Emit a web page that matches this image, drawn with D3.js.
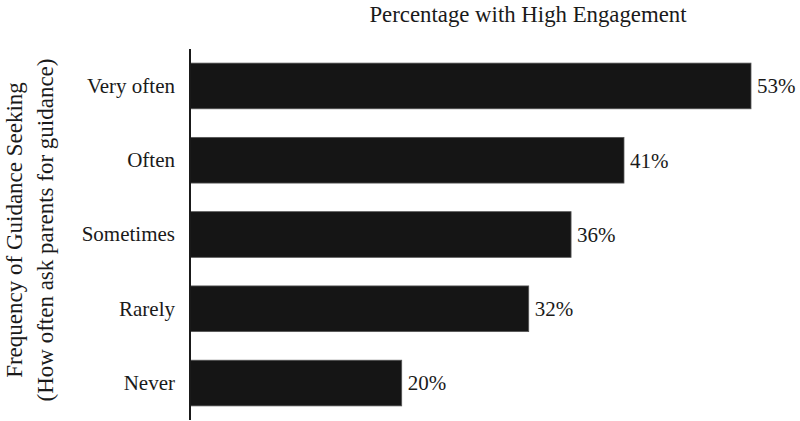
<!DOCTYPE html>
<html><head><meta charset="utf-8">
<script src="https://cdn.jsdelivr.net/npm/d3@7"></script>
<style>
html,body{margin:0;padding:0;background:#fff;}
text{font-family:"Liberation Serif","Times New Roman",serif;fill:#1a1a1a;}
</style></head>
<body>
<svg id="chart" width="800" height="421"></svg>
<script>
const categories = ["Very often","Often","Sometimes","Rarely","Never"];
const values = [53,41,36,32,20];
const valueLabels = ["53%","41%","36%","32%","20%"];
const chartTitle = "Percentage with High Engagement";
const yTitleLines = ["Frequency of Guidance Seeking","(How often ask parents for guidance)"];

const svg = d3.select("#chart");
const x = d3.scaleLinear().domain([0,53]).range([190,751]);
const y = d3.scaleBand().domain(categories).range([49,420]).paddingInner(0.385).paddingOuter(0.19);

svg.append("g").selectAll("rect").data(categories).join("rect")
  .attr("x", x(0))
  .attr("y", d=>y(d))
  .attr("width", (d,i)=>x(values[i])-x(0))
  .attr("height", y.bandwidth())
  .attr("fill","#151515")
  .attr("stroke","#555")
  .attr("stroke-width",0.8);

const yAxis = d3.axisLeft(y).tickSize(0).tickPadding(15);
const gy = svg.append("g").attr("transform",`translate(${x(0)},0)`).call(yAxis);
gy.attr("font-family",null).attr("font-size",null);
gy.select(".domain").attr("stroke","#1a1a1a").attr("stroke-width",2).attr("d","M0,49V420");
gy.selectAll(".tick text").style("font-size","21px").attr("fill","#1a1a1a");

svg.append("g").selectAll("text").data(categories).join("text")
  .attr("x",(d,i)=>x(values[i])+6)
  .attr("y",d=>y(d)+y.bandwidth()/2)
  .attr("dy","0.35em")
  .style("font-size","21px")
  .text((d,i)=>valueLabels[i]);

svg.append("text").attr("x",528).attr("y",22).attr("text-anchor","middle")
  .style("font-size","22.8px").text(chartTitle);

const yt = svg.append("text").attr("transform","translate(0,230) rotate(-90)").attr("text-anchor","middle").style("font-size","23px");
yt.append("tspan").attr("x",0).attr("y",22).text(yTitleLines[0]);
yt.append("tspan").attr("x",0).attr("y",53).text(yTitleLines[1]);
</script>
</body></html>
